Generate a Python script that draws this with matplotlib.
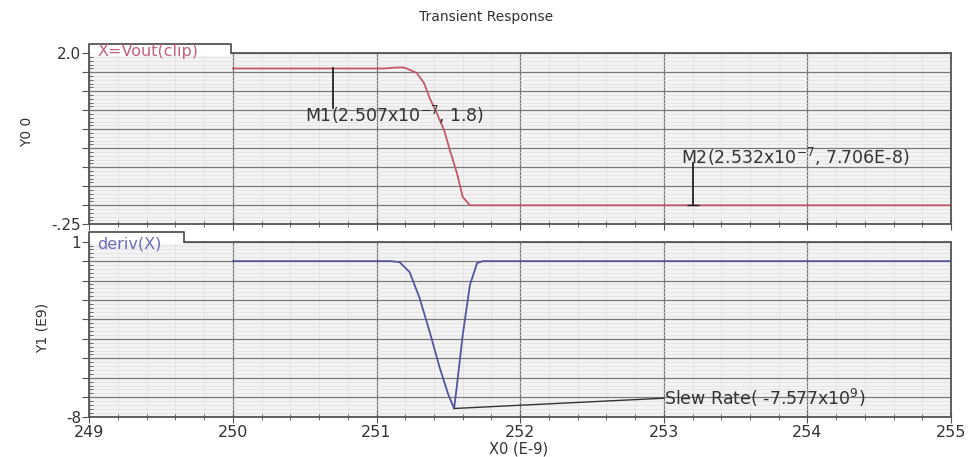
import matplotlib.pyplot as plt
from matplotlib.patches import Rectangle
from matplotlib.ticker import MultipleLocator

# top trace: X = Vout(clip), time in ns
vout_t = [250.0, 251.05, 251.12, 251.18, 251.21, 251.28, 251.33, 251.37, 251.42,
          251.47, 251.51, 251.56, 251.60, 251.65, 255.0]
vout_v = [1.80, 1.80, 1.81, 1.815, 1.80, 1.74, 1.61, 1.41, 1.21,
          0.99, 0.73, 0.42, 0.11, 0.0, 0.0]

# bottom trace: deriv(X), units of E9
der_t = [250.0, 251.10, 251.16, 251.23, 251.30, 251.37, 251.44, 251.50, 251.54,
         251.56, 251.60, 251.65, 251.70, 251.74, 255.0]
der_v = [0.0, 0.0, -0.05, -0.56, -1.9, -3.64, -5.49, -6.87, -7.577,
         -6.37, -3.8, -1.23, -0.1, 0.0, 0.0]

m1 = (250.7, 1.8)
m2 = (253.2, 0.0)
slew = (251.54, -7.577)

xticks = [249, 250, 251, 252, 253, 254, 255]

red = "#c25868"
blue = "#55559f"
bg = "#f3f3f3"
spine_c = "#555555"
txt_c = "#333333"


def style_axes(ax, ymin, ymax, ymaj, ymin_step):
    ax.set_facecolor(bg)
    ax.set_xlim(249, 255)
    ax.set_ylim(ymin, ymax)
    ax.xaxis.set_major_locator(MultipleLocator(1))
    ax.xaxis.set_minor_locator(MultipleLocator(0.2))
    ax.yaxis.set_major_locator(MultipleLocator(ymaj))
    ax.yaxis.set_minor_locator(MultipleLocator(ymin_step))
    ax.grid(which="major", color="#7a7a7a", lw=0.9)
    ax.grid(which="minor", color="#e0e0e0", lw=0.5)
    ax.set_axisbelow(True)
    for s in ax.spines.values():
        s.set_color(spine_c)
        s.set_linewidth(1.3)
    ax.tick_params(axis="y", which="major", direction="out", length=5,
                   color=spine_c, labelsize=11, labelcolor=txt_c, pad=1)
    ax.tick_params(axis="y", which="minor", direction="in", length=3, color=spine_c)
    ax.tick_params(axis="x", which="major", direction="inout", length=8,
                   color=spine_c, labelsize=11.5, labelcolor=txt_c, pad=2)
    ax.tick_params(axis="x", which="minor", direction="inout", length=4, color=spine_c)


def tab(ax, width, height, label, color, ty):
    # white patch hides the spine under the tab, then outline left/top/right
    ax.add_patch(Rectangle((0.001, 0.985), width - 0.001, height + 0.015,
                           transform=ax.transAxes, facecolor="white",
                           edgecolor="none", clip_on=False, zorder=5))
    ax.plot([0, 0, width, width], [1, 1 + height, 1 + height, 1],
            transform=ax.transAxes, color=spine_c, lw=1.3,
            clip_on=False, zorder=6)
    ax.text(0.009, ty, label, transform=ax.transAxes, color=color,
            fontsize=11.5, va="center", ha="left", zorder=7)


fig = plt.figure(figsize=(9.72, 4.57), dpi=100)
ax0 = fig.add_axes([0.0919, 0.5092, 0.8865, 0.3742])
ax1 = fig.add_axes([0.0919, 0.0882, 0.8865, 0.3829])

# top panel
style_axes(ax0, -0.25, 2.0, 0.25, 0.05)
ax0.set_yticks([-0.25, 0, 0.25, 0.5, 0.75, 1.0, 1.25, 1.5, 1.75, 2.0])
ax0.set_yticklabels(["-.25", "", "", "", "", "", "", "", "", "2.0"])
ax0.tick_params(axis="x", labelbottom=False)
ax0.plot(vout_t, vout_v, color=red, lw=1.3)
tab(ax0, 0.1644, 0.0544, "X=Vout(clip)", "#c4607e", 1.013)

ax0.plot([m1[0], m1[0]], [m1[1], 1.28], color="#222222", lw=1.3)
ax0.text(250.5, 1.19, "M1(2.507x10$^{-7}$, 1.8)", fontsize=12.5,
         color=txt_c, va="center", ha="left")
ax0.plot([m2[0], m2[0]], [m2[1], 0.56], color="#222222", lw=1.3)
ax0.plot([m2[0]], [m2[1]], marker="_", color="#222222", ms=8)
ax0.text(253.12, 0.64, "M2(2.532x10$^{-7}$, 7.706E-8)", fontsize=12.5,
         color=txt_c, va="center", ha="left", clip_on=False)

# bottom panel
style_axes(ax1, -8, 1, 1, 0.2)
ax1.set_yticks(range(-8, 2))
ax1.set_yticklabels(["-8", "", "", "", "", "", "", "", "", "1"])
ax1.set_xticks(xticks)
ax1.set_xticklabels([str(t) for t in xticks])
ax1.plot(der_t, der_v, color=blue, lw=1.3)
tab(ax1, 0.11, 0.0537, "deriv(X)", "#6a6ab8", 0.988)

ax1.plot([slew[0], 253.0], [slew[1], -7.05], color=txt_c, lw=1.0)
ax1.text(253.0, -7.05, "Slew Rate( -7.577x10$^{9}$)", fontsize=12.5,
         color=txt_c, va="center", ha="left")

fig.text(0.028, 0.711, "Y0 0", rotation=90, ha="center", va="center",
         fontsize=10, color=txt_c)
fig.text(0.044, 0.282, "Y1 (E9)", rotation=90, ha="center", va="center",
         fontsize=10, color=txt_c)
fig.text(0.533, 0.0, "X0 (E-9)", ha="center", va="bottom",
         fontsize=10.5, color=txt_c)
fig.text(0.5, 0.963, "Transient Response", ha="center", va="center",
         fontsize=10, color=txt_c)

fig.savefig("out.png", dpi=100)
